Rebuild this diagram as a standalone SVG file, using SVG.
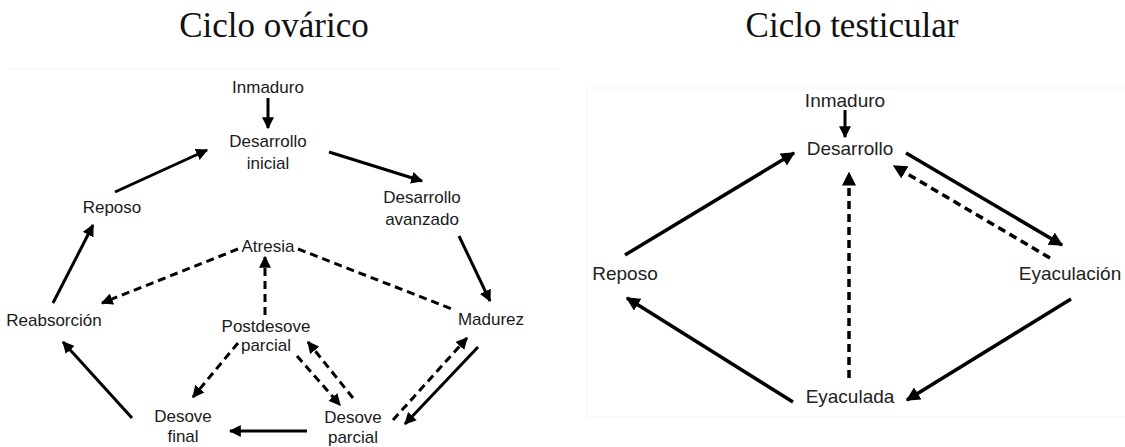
<svg xmlns="http://www.w3.org/2000/svg" width="1125" height="447" viewBox="0 0 1125 447">
<style>
.title{font-family:"Liberation Serif","Times New Roman",serif;font-size:35px;fill:#111;text-anchor:middle}
.ln{font-family:"Liberation Sans Narrow","Arial Narrow","Liberation Sans",sans-serif;font-size:17px;fill:#1a1a1a;text-anchor:middle}
.rn{font-family:"Liberation Sans",Arial,sans-serif;font-size:19px;fill:#222;text-anchor:middle}
.s{stroke:#000;stroke-width:3;fill:none;marker-end:url(#ah)}
.d{stroke:#000;stroke-width:3;fill:none;stroke-dasharray:8 5;marker-end:url(#ah)}
.dn{stroke:#000;stroke-width:3;fill:none;stroke-dasharray:8 5}
.r{stroke-width:3.5}
.frame{fill:none;stroke:#f4f4f4;stroke-width:1}
</style>
<defs>
<marker id="ah" viewBox="0 0 10 10" refX="9" refY="5" markerWidth="4" markerHeight="4" orient="auto" markerUnits="strokeWidth">
<path d="M0,0 L10,5 L0,10 z" fill="#000"/>
</marker>
</defs>
<rect width="1125" height="447" fill="#fff"/>
<rect class="frame" x="587" y="88" width="540" height="329"/>
<line class="frame" x1="8" y1="69" x2="560" y2="69"/>
<text class="title" x="274" y="37">Ciclo ovárico</text>
<text class="title" x="852" y="37">Ciclo testicular</text>

<g id="ovario-nodes">
<g id="o-inmaduro"><text class="ln" x="268" y="93">Inmaduro</text></g>
<g id="o-desarrollo-inicial"><text class="ln" x="268" y="147">Desarrollo</text><text class="ln" x="268" y="169">inicial</text></g>
<g id="o-desarrollo-avanzado"><text class="ln" x="422" y="203">Desarrollo</text><text class="ln" x="422" y="225">avanzado</text></g>
<g id="o-madurez"><text class="ln" x="491" y="325">Madurez</text></g>
<g id="o-desove-parcial"><text class="ln" x="353" y="423">Desove</text><text class="ln" x="353" y="443">parcial</text></g>
<g id="o-desove-final"><text class="ln" x="183" y="422">Desove</text><text class="ln" x="183" y="442">final</text></g>
<g id="o-reabsorcion"><text class="ln" x="54" y="326">Reabsorción</text></g>
<g id="o-reposo"><text class="ln" x="112" y="213">Reposo</text></g>
<g id="o-atresia"><text class="ln" x="268" y="252">Atresia</text></g>
<g id="o-postdesove"><text class="ln" x="266" y="332">Postdesove</text><text class="ln" x="266" y="351">parcial</text></g>
</g>

<g id="ovario-connectors">
<line class="s" x1="268" y1="98" x2="268" y2="128"/>
<line class="s" x1="329" y1="152" x2="422" y2="181"/>
<line class="s" x1="459" y1="236" x2="490" y2="301"/>
<line class="s" x1="478" y1="347" x2="405" y2="424"/>
<line class="d" x1="393" y1="420" x2="467" y2="338"/>
<line class="s" x1="307" y1="431" x2="230" y2="431"/>
<line class="s" x1="132" y1="418" x2="63" y2="342"/>
<line class="s" x1="53" y1="303" x2="93" y2="225"/>
<line class="s" x1="115" y1="192" x2="207" y2="150"/>
<line class="d" x1="238" y1="249" x2="102" y2="303"/>
<line class="dn" x1="298" y1="249" x2="452" y2="309"/>
<line class="d" x1="265" y1="315" x2="265" y2="257"/>
<line class="d" x1="238" y1="343" x2="193" y2="397"/>
<line class="d" x1="297" y1="356" x2="340" y2="405"/>
<line class="d" x1="353" y1="398" x2="308" y2="342"/>
</g>

<g id="testiculo-nodes">
<g id="t-inmaduro"><text class="rn" x="845" y="107">Inmaduro</text></g>
<g id="t-desarrollo"><text class="rn" x="850" y="155">Desarrollo</text></g>
<g id="t-reposo"><text class="rn" x="625" y="280">Reposo</text></g>
<g id="t-eyaculacion"><text class="rn" x="1070" y="280">Eyaculación</text></g>
<g id="t-eyaculada"><text class="rn" x="850" y="403">Eyaculada</text></g>
</g>

<g id="testiculo-connectors">
<line class="s" x1="845" y1="110" x2="845" y2="137"/>
<line class="s r" x1="625" y1="255" x2="794" y2="153"/>
<line class="s r" x1="906" y1="153" x2="1062" y2="245"/>
<line class="d r" x1="1050" y1="258" x2="894" y2="166"/>
<line class="d r" x1="849" y1="378" x2="849" y2="173"/>
<line class="s r" x1="793" y1="402" x2="627" y2="298"/>
<line class="s r" x1="1071" y1="299" x2="907" y2="400"/>
</g>
</svg>
